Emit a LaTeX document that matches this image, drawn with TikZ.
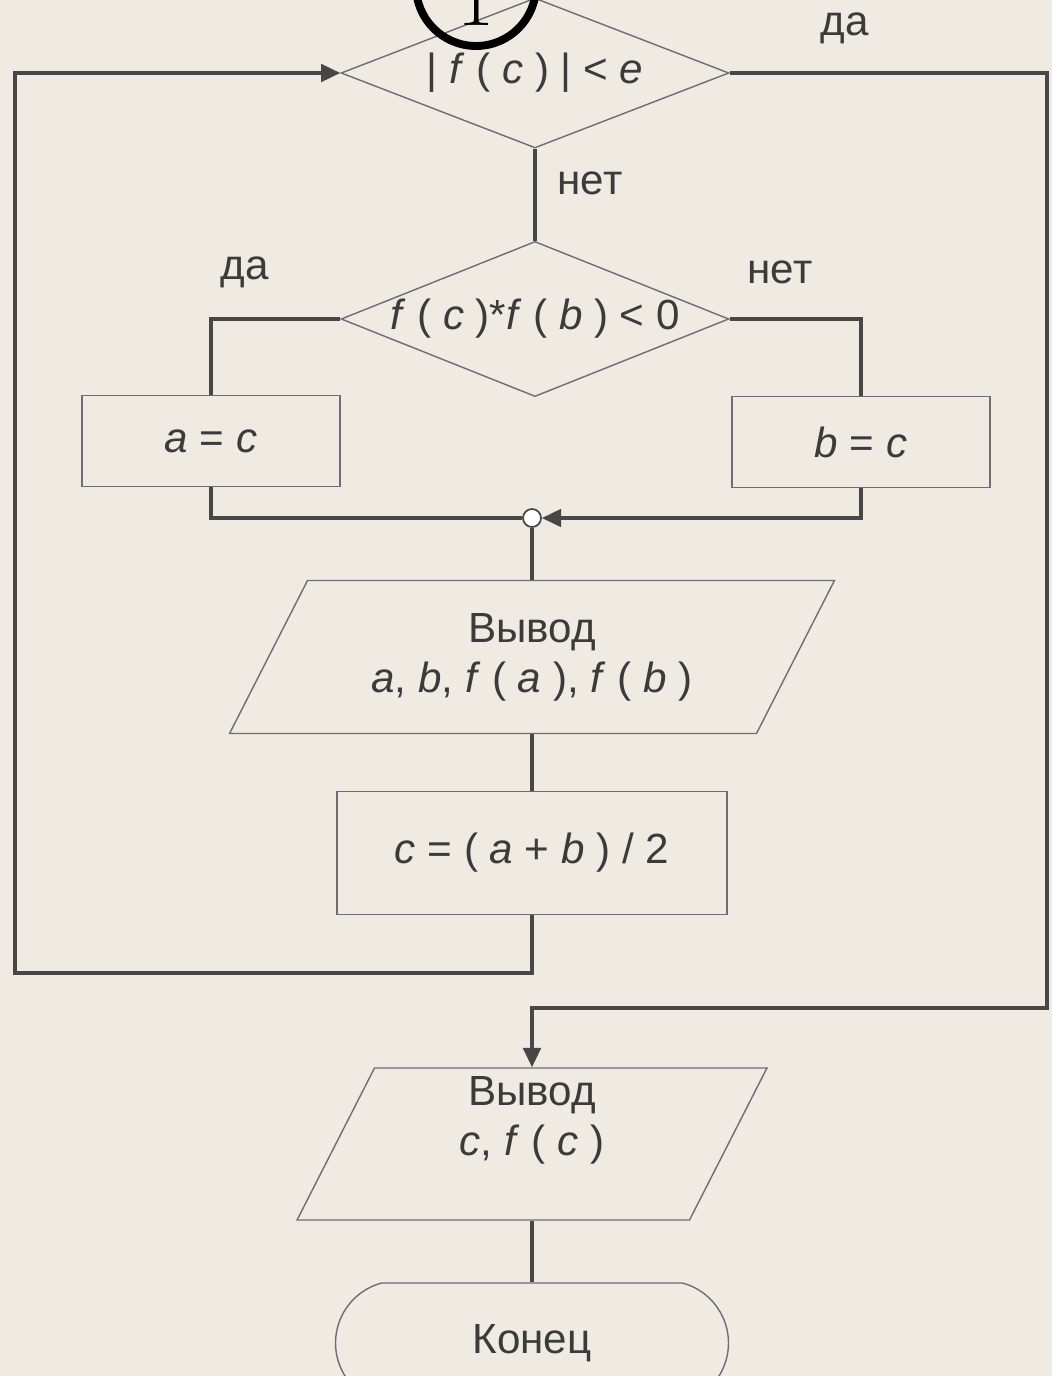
\documentclass[tikz,border=0pt]{standalone}
\usepackage{fontspec}
\newfontfamily\flowfont{Liberation Sans}
\usetikzlibrary{arrows.meta,shapes.geometric,shapes.misc}
\definecolor{paper}{HTML}{EFEBE2}
\definecolor{ink}{HTML}{474747}
\definecolor{edge}{HTML}{6E6E6E}
\definecolor{txt}{HTML}{3B3B3B}

\begin{document}
\begin{tikzpicture}[>={Triangle[length=11pt,width=10pt]},x=0.02cm,y=-0.02cm,
    font=\flowfont\fontsize{24}{28.5}\selectfont,
    blk/.style={draw=edge,line width=0.8pt,text=txt,inner sep=0pt,align=center},
    decide/.style={blk,diamond,aspect=2.5},
    proc/.style={blk,rectangle},
    io/.style={blk,trapezium,trapezium left angle=63,trapezium right angle=117,
      trapezium stretches body,text depth=0pt},
    flow/.style={ink,line width=2pt},
    lbl/.style={text=txt}]

  % --- page ---
  \fill[paper] (0,0) rectangle (1052,1376);
  \useasboundingbox (0,0) rectangle (1052,1376);

  % --- decisions ---
  \node[decide,minimum width=7.76cm,minimum height=3cm] (d1) at (535,73)
        {| \textit{f} ( \textit{c} ) | < \textit{e}};
  \node[decide,minimum width=7.7cm,minimum height=3.04cm] (d2) at (535,319)
        {\textit{f} ( \textit{c} )*\textit{f} ( \textit{b} ) < 0};

  % --- branches ---
  \node[proc,minimum width=5.16cm,minimum height=1.82cm] (ac) at (211,441)
        {\textit{a} = \textit{c}};
  \node[proc,minimum width=5.16cm,minimum height=1.82cm] (bc) at (861,442)
        {\textit{b} = \textit{c}};
  \node[circle,draw=ink,line width=1pt,fill=white,minimum size=0.36cm,
        inner sep=0pt] (join) at (532,518) {};

  % --- output / midpoint ---
  \node[io,text height=3.06cm,minimum width=12.1cm,
        label={[lbl,align=center]center:Вывод\\\textit{a}, \textit{b}, \textit{f} ( \textit{a} ), \textit{f} ( \textit{b} )}]
        (out1) at (532,657) {};
  \node[proc,minimum width=7.8cm,minimum height=2.46cm] (calc) at (532,853)
        {\textit{c} = ( \textit{a} + \textit{b} ) / 2};

  % --- result and end ---
  \node[io,text height=3.04cm,minimum width=9.4cm,
        label={[lbl,align=center,yshift=0.48cm]center:Вывод\\\textit{c}, \textit{f} ( \textit{c} )}]
        (out2) at (532,1144) {};
  \node[blk,rounded rectangle,rounded rectangle arc length=150,
        minimum width=7.86cm,minimum height=2.4cm] (stop) at (532,1343) {Конец};

  % --- branch labels ---
  \node[lbl] (yes1) at (845,28) {да};
  \node[lbl] (no1) at (590,183) {нет};
  \node[lbl] (yes2) at (245,272) {да};
  \node[lbl] (no2) at (780,272) {нет};

  % --- connectors ---
  \coordinate (rturn) at (1047,1008);
  \coordinate (lturn) at (15,973);
  \draw[flow] (d1.south) -- (d2.north);
  \draw[flow,->] (d1.east) -| (rturn) -| (out2.north);
  \draw[flow,->] (calc.south) |- (lturn) |- (d1.west);
  \draw[flow] (d2.west) -| (ac.north);
  \draw[flow] (d2.east) -| (bc.north);
  \draw[flow] (ac.south) |- (join.west);
  \draw[flow,->] (bc.south) |- (join.east);
  \draw[flow] (join.south) -- (out1.north);
  \draw[flow] (out1.south) -- (calc.north);
  \draw[flow] (out2.south) -- (stop.north);

  % --- off-page connector ---
  \node[circle,draw=black,line width=4.5pt,minimum size=2.4cm,inner sep=0pt,
        font=\normalfont\fontsize{46}{46}\selectfont] (conn) at (476,-14)
        {\raisebox{-0.26cm}[\height][0pt]{1}};

\end{tikzpicture}
\end{document}
